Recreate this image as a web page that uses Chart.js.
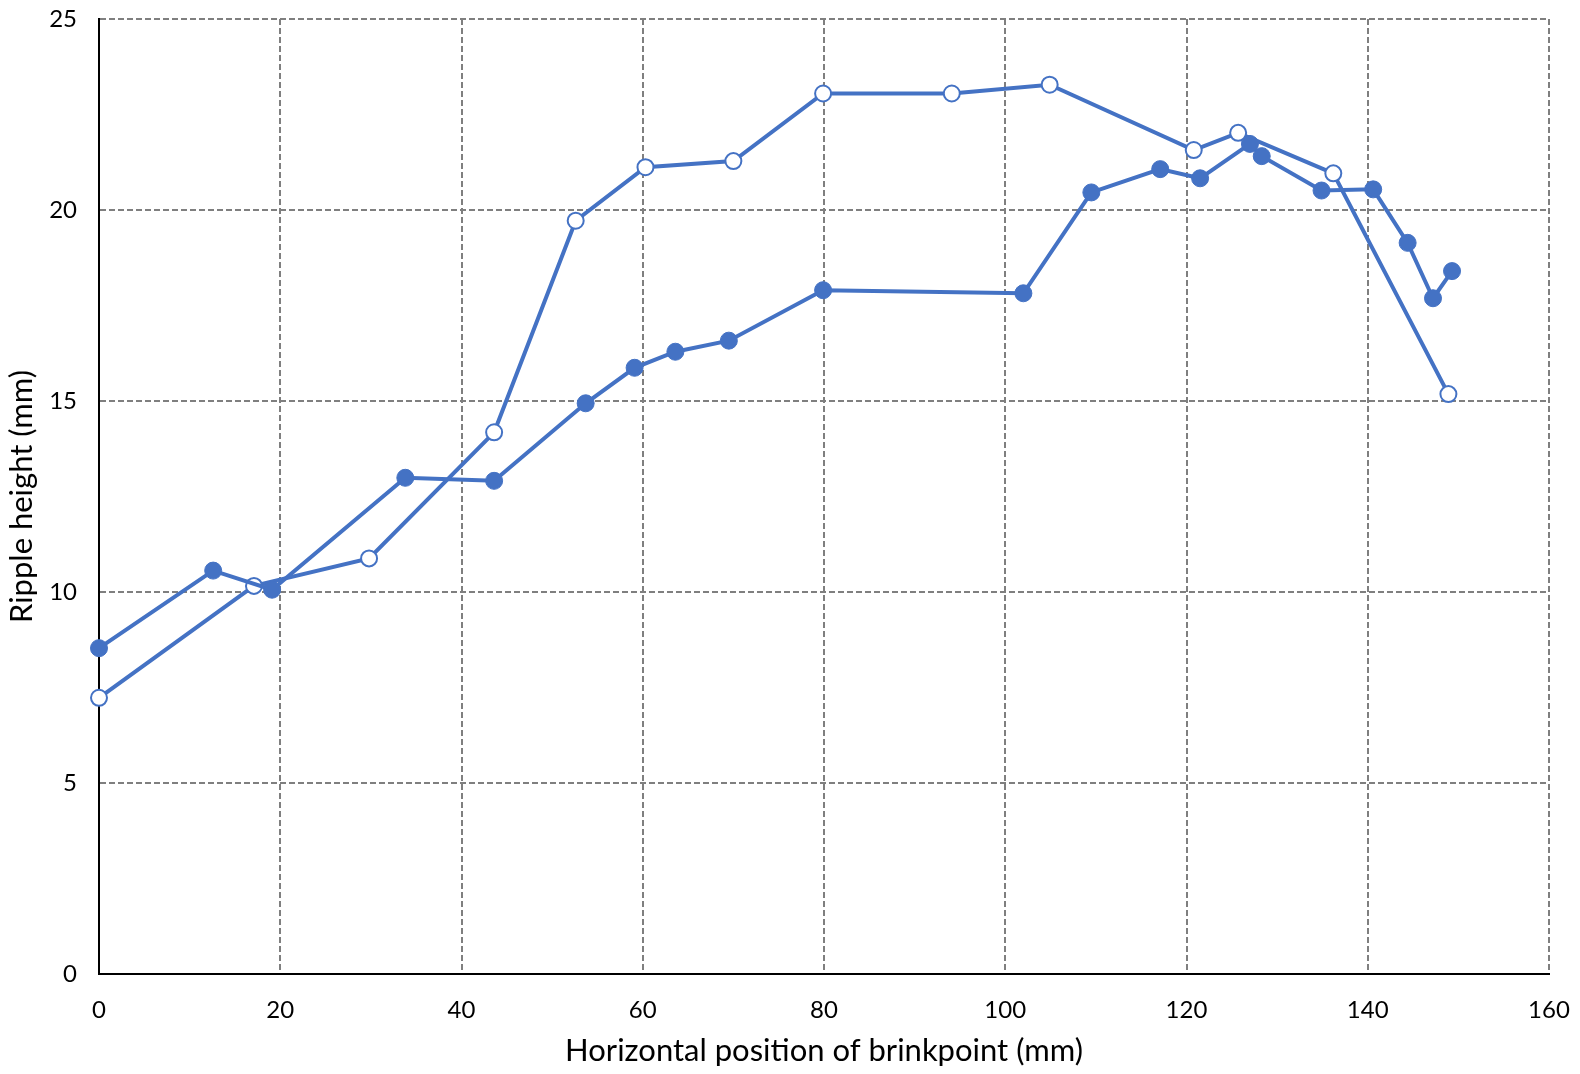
<!DOCTYPE html>
<html>
<head>
<meta charset="utf-8">
<script src="https://cdn.jsdelivr.net/npm/chart.js@4/dist/chart.umd.min.js"></script>
<style>
   html, body { margin: 0; padding: 0; background: #fff; }
   #wrap { width: 1580px; height: 1074px; }
</style>
</head>
<body>
<div id="wrap"><canvas id="chart" width="1580" height="1074"></canvas></div>
<script>
// filled markers
const filledX = [0, 12.6, 19.1, 33.8, 43.6, 53.7, 59.1, 63.6, 69.5, 79.9, 102.0, 109.5, 117.1, 121.5, 127.0, 128.3, 134.9, 140.6, 144.4, 147.2, 149.3];
const filledY = [8.53, 10.56, 10.06, 12.99, 12.91, 14.94, 15.87, 16.29, 16.58, 17.90, 17.82, 20.46, 21.07, 20.83, 21.73, 21.41, 20.51, 20.54, 19.14, 17.69, 18.40];

// open markers
const openX = [0, 17.1, 29.8, 43.6, 52.6, 60.3, 70.0, 79.9, 94.1, 104.9, 120.8, 125.7, 136.2, 148.9];
const openY = [7.23, 10.16, 10.88, 14.18, 19.72, 21.12, 21.28, 23.05, 23.05, 23.28, 21.57, 22.02, 20.96, 15.18];

const xTitle = "Horizontal position of brinkpoint (mm)";
const yTitle = "Ripple height (mm)";

const blue = "#4472C4";
const fontFamily = "Lato, 'Open Sans', sans-serif";

const toPoints = (xs, ys) => xs.map((x, i) => ({ x: x, y: ys[i] }));

// keep tick labels from pushing the plot area in
const noOverflow = (scale) => {
   scale.paddingTop = 0;
   scale.paddingBottom = 0;
   scale.paddingLeft = 0;
   scale.paddingRight = 0;
};

const init = () => {
   const data = {
      datasets: [
         {
            data: toPoints(filledX, filledY),
            showLine: true,
            clip: false,
            borderColor: blue,
            borderWidth: 4,
            pointBackgroundColor: blue,
            pointBorderColor: blue,
            pointBorderWidth: 1,
            pointRadius: 8.5,
         },
         {
            data: toPoints(openX, openY),
            showLine: true,
            clip: false,
            borderColor: blue,
            borderWidth: 4,
            pointBackgroundColor: "#fff",
            pointBorderColor: blue,
            pointBorderWidth: 2,
            pointRadius: 8,
         },
      ],
   };

   const gridStyle = {
      color: "#7f7f7f",
      lineWidth: 2,
      drawTicks: false,
   };

   const config = {
      type: "scatter",
      data: data,
      options: {
         responsive: false,
         animation: false,
         layout: { autoPadding: false, padding: { top: 19, right: 31, left: 0, bottom: 0 } },
         plugins: { legend: { display: false }, tooltip: { enabled: false } },
         scales: {
            x: {
               min: 0,
               max: 160,
               ticks: { stepSize: 20, color: "#000", padding: 22, font: { family: fontFamily, size: 24 } },
               grid: gridStyle,
               border: { display: true, color: "#000", width: 2, dash: [6, 3] },
               title: { display: true, text: xTitle, color: "#000", padding: { top: 0, bottom: 4 }, font: { family: fontFamily, size: 31 } },
               afterFit: (scale) => {
                  scale.height = 100;
                  noOverflow(scale);
               },
            },
            y: {
               min: 0,
               max: 25,
               ticks: { stepSize: 5, color: "#000", padding: 22, font: { family: fontFamily, size: 24 } },
               grid: gridStyle,
               border: { display: true, color: "#000", width: 2, dash: [6, 3] },
               title: { display: true, text: yTitle, color: "#000", padding: { top: 3, bottom: 0 }, font: { family: fontFamily, size: 31 } },
               afterFit: (scale) => {
                  scale.width = 99;
                  noOverflow(scale);
               },
            },
         },
      },
   };

   new Chart(document.getElementById("chart"), config);
};

init();
</script>
</body>
</html>
